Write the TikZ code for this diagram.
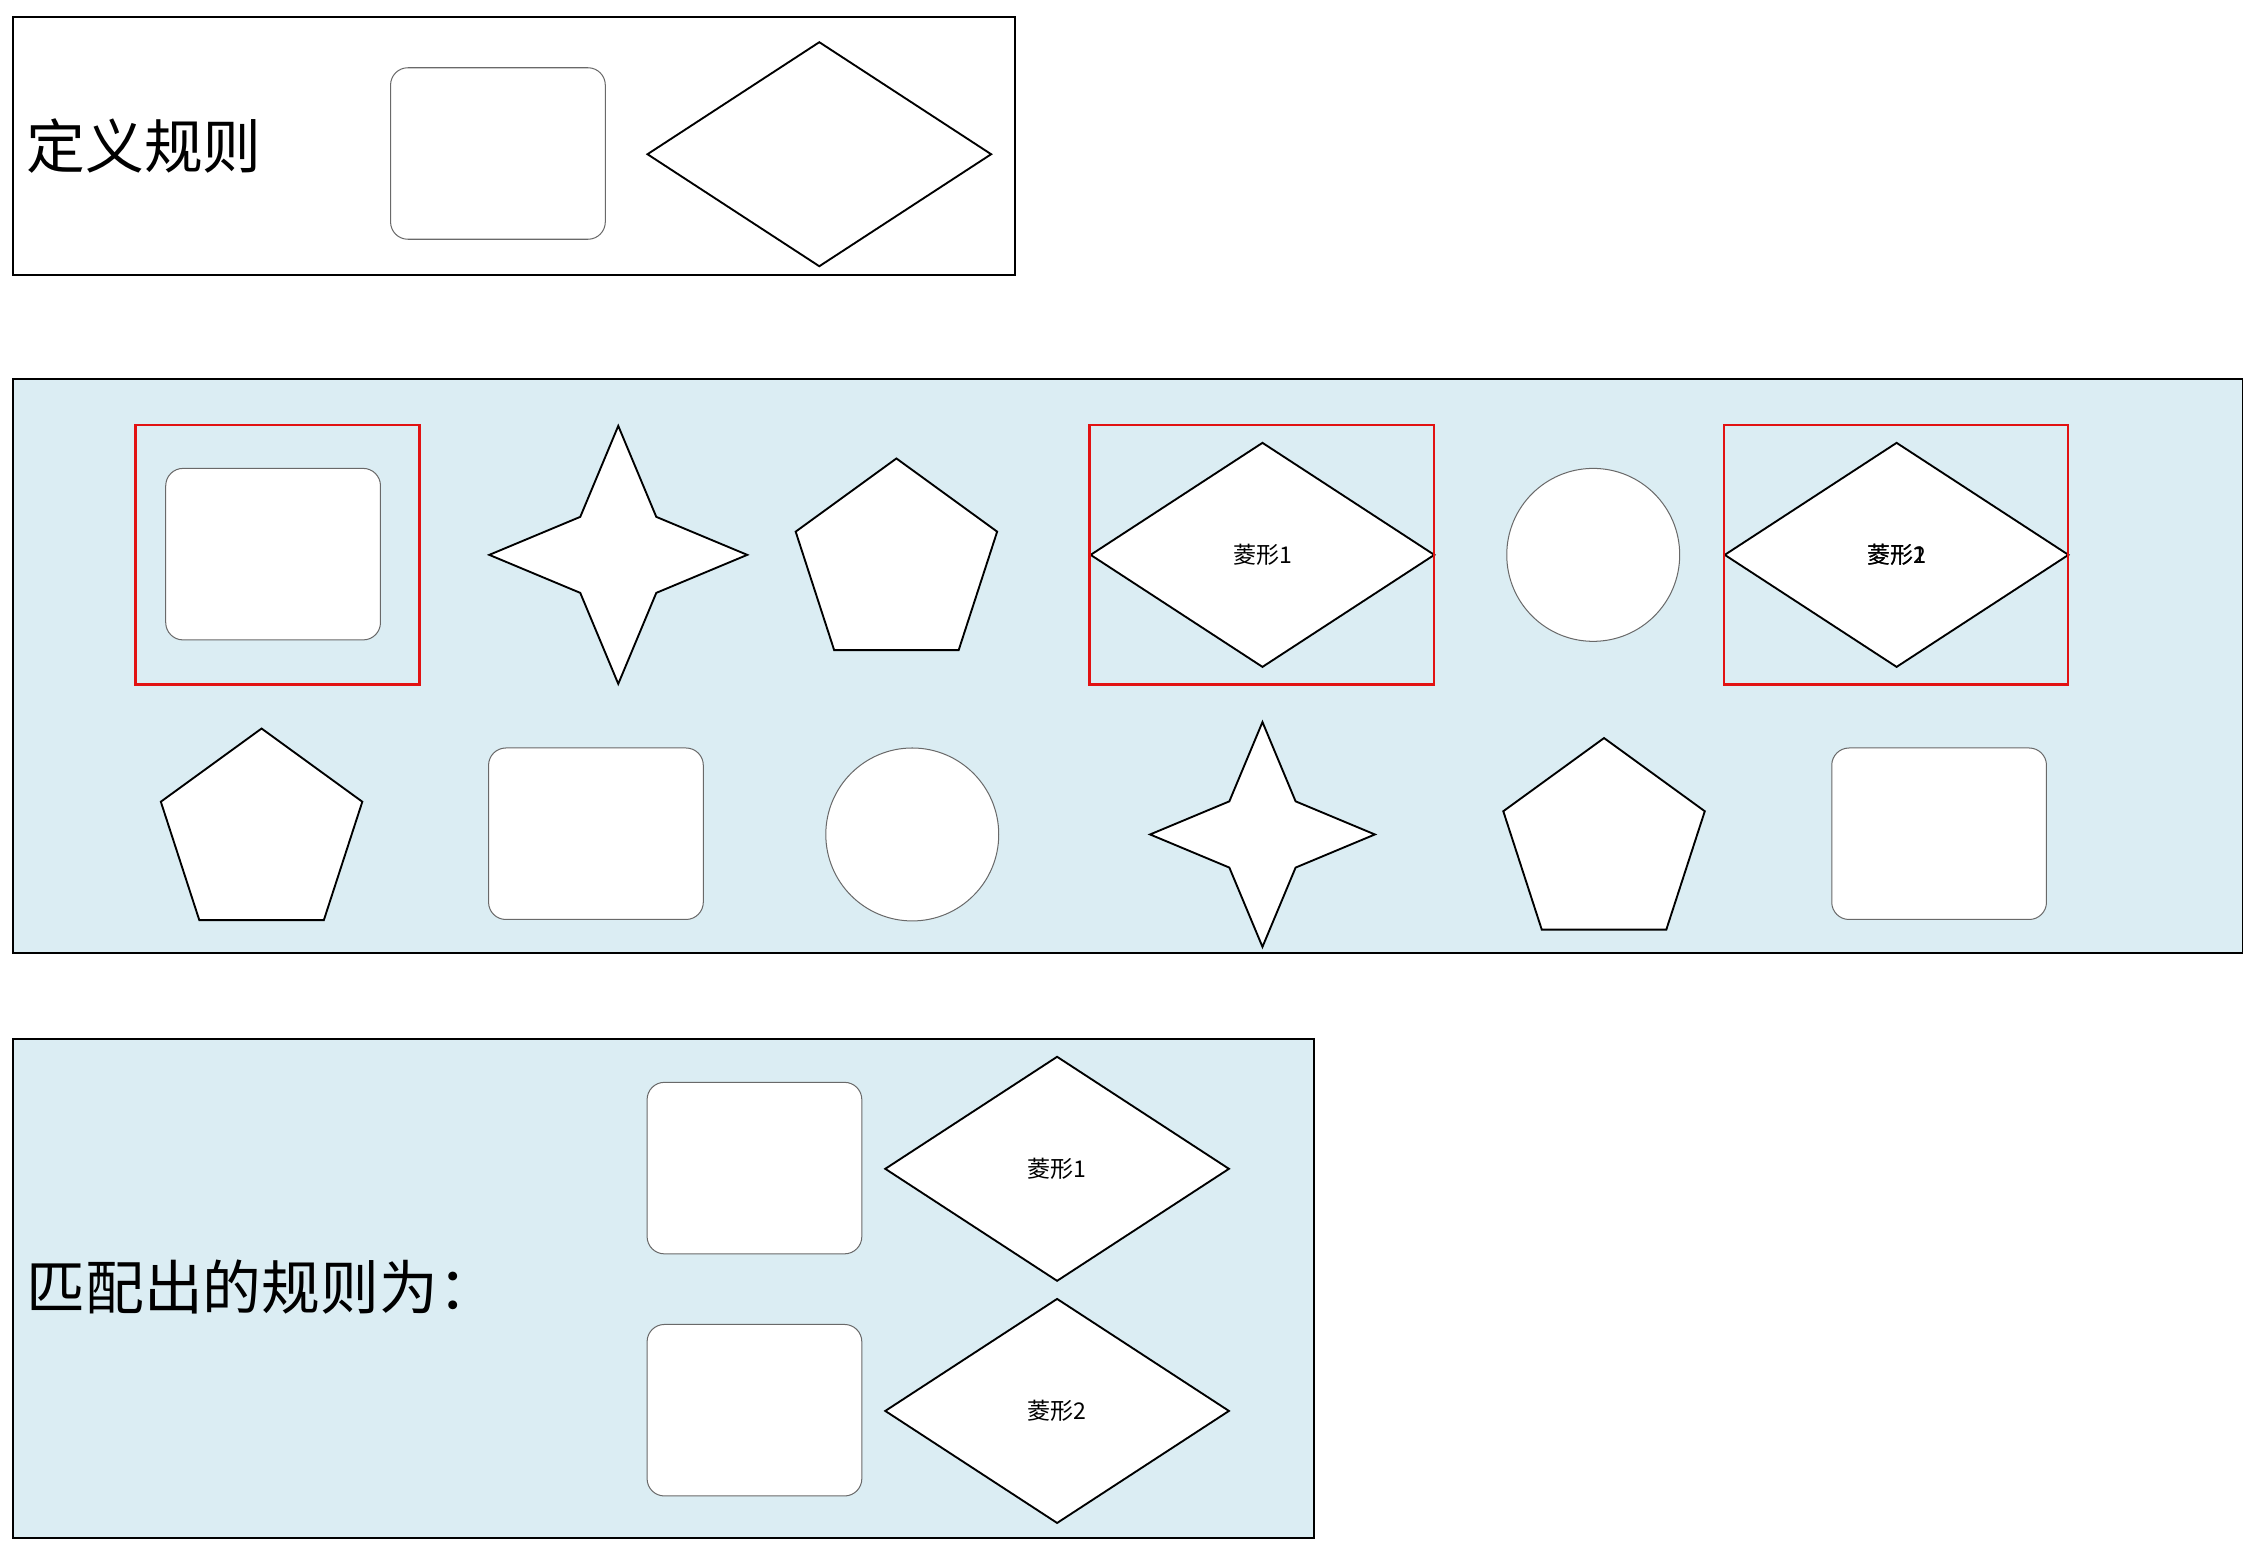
\documentclass[tikz,border=0pt]{standalone}
\usepackage{fontspec}
\newfontfamily\cjk{Noto Sans CJK SC}
\usetikzlibrary{shapes.geometric}
\definecolor{panelblue}{RGB}{219,237,243}
\definecolor{markred}{RGB}{226,18,18}
\definecolor{edgegray}{RGB}{105,105,105}
\begin{document}
\begin{tikzpicture}
      [x=0.5pt, y=-0.5pt,
       frame/.style={draw, line width=0.65pt},
       title/.style={anchor=west, font=\cjk\fontsize{20.4pt}{24pt}\selectfont, inner sep=0pt},
       card/.style={draw=edgegray, fill=white, line width=0.35pt, rounded corners=6pt,
         minimum width=74.5pt, minimum height=59.5pt, inner sep=0pt},
       rhomb/.style={diamond, draw, fill=white, line width=0.65pt, inner sep=0pt,
         minimum width=119.5pt, minimum height=78pt, font=\cjk\fontsize{8pt}{9pt}\selectfont},
       pent/.style={regular polygon, regular polygon sides=5, draw, fill=white,
         line width=0.65pt, minimum size=73.5pt, inner sep=0pt},
       spark/.style={star, star points=4, star point ratio=2.4, draw, fill=white,
         line width=0.65pt, inner sep=0pt},
       disc/.style={circle, draw=edgegray, fill=white, line width=0.35pt,
         minimum size=60pt, inner sep=0pt},
       hitbox/.style={draw=markred, line width=0.8pt}]
      \useasboundingbox (0, 0) rectangle (1564, 1073);
      % rule
      \draw[frame, fill=white] (9, 12) rectangle (704, 191);
      \node[title](ruletext) at (18, 101) {定义规则};
      \node[card](rulecard) at (345.5, 106.5) {};
      \node[rhomb](rulerhomb) at (568.5, 107) {};
      % shapes
      \draw[frame, fill=panelblue] (9, 263) rectangle (1556, 661);
      \node[card](c1) at (189.5, 384.5) {};
      \node[spark, minimum size=89.5pt](s1) at (429, 385) {};
      \node[pent](p1) at (622, 391.6) {};
      \node[rhomb](r1) at (876, 385) {菱形1};
      \node[disc](o1) at (1105.5, 385) {};
      \node[rhomb](r2) at (1316, 385) {菱形2};
      \node[font=\cjk\fontsize{8pt}{9pt}\selectfont, inner sep=0pt](r2b) at (r2.center) {菱形1};
      \draw[hitbox] (94, 295) rectangle (291, 475);
      \draw[hitbox] (756, 295) rectangle (995, 475);
      \draw[hitbox] (1196, 295) rectangle (1435, 475);
      \node[pent](p2) at (181.5, 579) {};
      \node[card](c2) at (413.5, 578.5) {};
      \node[disc](o2) at (633, 579) {};
      \node[spark, minimum size=78pt](s2) at (876, 579) {};
      \node[pent](p3) at (1113, 585.6) {};
      \node[card](c3) at (1345.5, 578.5) {};
      % result
      \draw[frame, fill=panelblue] (9, 721) rectangle (912, 1067);
      \node[title](resulttext) at (18, 893) {匹配出的规则为：};
      \node[card](c4) at (523.5, 810.5) {};
      \node[rhomb](r3) at (733.5, 811) {菱形1};
      \node[card](c5) at (523.5, 978.5) {};
      \node[rhomb](r4) at (733.5, 979) {菱形2};
  \end{tikzpicture}
\end{document}
